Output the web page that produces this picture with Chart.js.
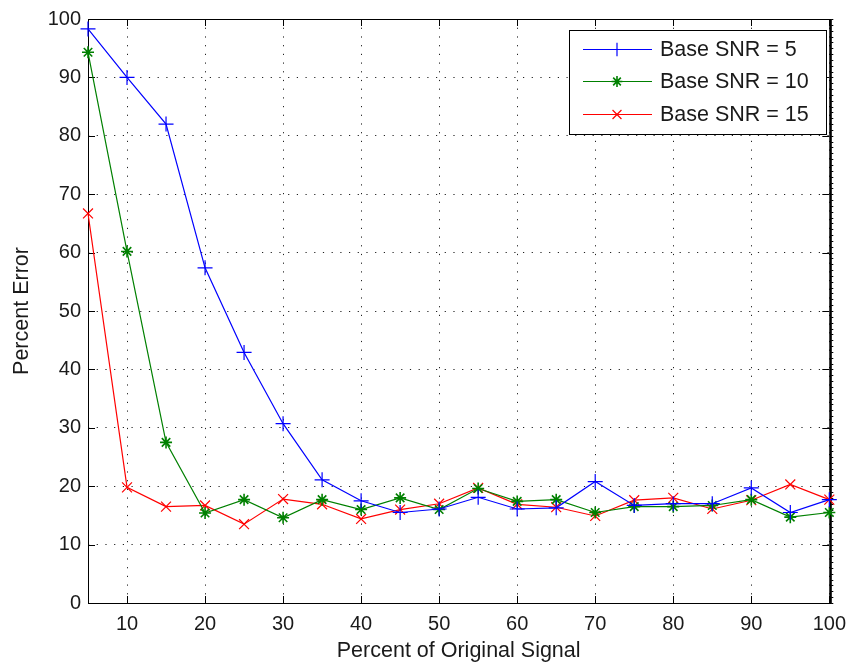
<!DOCTYPE html>
<html>
<head>
<meta charset="utf-8">
<script src="https://cdn.jsdelivr.net/npm/chart.js@4/dist/chart.umd.min.js"></script>
<style>
  html, body { margin: 0; padding: 0; background: #fff; }
  #wrap { width: 855px; height: 669px; position: relative; }
</style>
</head>
<body>
<div id="wrap"><canvas id="chart"></canvas></div>
<script>
// Data ------------------------------------------------------------------------------------

var percentSignal = [5, 10, 15, 20, 25, 30, 35, 40, 45, 50, 55, 60, 65, 70, 75, 80, 85, 90, 95, 100];
var snr5Error  = [98.3, 90.0, 82.0, 57.4, 42.9, 30.7, 21.1, 17.5, 15.5, 16.1, 18.1, 16.1, 16.3, 20.8, 16.7, 17.0, 17.0, 19.7, 15.5, 17.7];
var snr10Error = [94.3, 60.2, 27.5, 15.4, 17.7, 14.6, 17.7, 16.0, 18.0, 16.0, 19.6, 17.4, 17.7, 15.5, 16.5, 16.5, 16.7, 17.7, 14.7, 15.5];
var snr15Error = [66.7, 19.8, 16.5, 16.7, 13.5, 17.8, 16.9, 14.4, 16.0, 17.0, 19.7, 16.9, 16.4, 14.9, 17.6, 18.0, 16.1, 17.6, 20.3, 17.7];
var seriesLabels = ['Base SNR = 5', 'Base SNR = 10', 'Base SNR = 15'];

var xTicks = [10, 20, 30, 40, 50, 60, 70, 80, 90, 100];
var yTicks = [0, 10, 20, 30, 40, 50, 60, 70, 80, 90, 100];

// Constants -------------------------------------------------------------------------------

var FONT = '"Liberation Sans", Arial, Helvetica, sans-serif';
var TEXT_COLOR = '#1a1a1a';
var TICK_SIZE = 20;
var LABEL_SIZE = 21.5;
var TICK_LEN = 7;

// Helpers ---------------------------------------------------------------------------------

function toPoints(values) {
    return percentSignal.map(function (x, i) { return { x: x, y: values[i] }; });
}

function makeSeries(label, values, color, style, radius, pointWidth) {
    return {
        label: label,
        data: toPoints(values),
        borderColor: color,
        backgroundColor: color,
        borderWidth: 1.2,
        pointStyle: style,
        pointRadius: radius,
        pointHoverRadius: radius,
        pointBorderWidth: pointWidth,
        pointBorderColor: color,
        tension: 0,
        fill: false,
        clip: false
    };
}

// frame, inward ticks and the legend box, MATLAB style
var framePlugin = {
    id: 'frame',
    beforeDatasetsDraw: function (chart) {
        var ctx = chart.ctx, a = chart.chartArea;
        var xs = chart.scales.x, ys = chart.scales.y;
        ctx.save();
        ctx.strokeStyle = '#000';
        ctx.lineWidth = 1;
        ctx.strokeRect(a.left + 0.5, a.top + 0.5, a.right - a.left, a.bottom - a.top);
        ctx.beginPath();
        xTicks.forEach(function (v) {
            var px = Math.round(xs.getPixelForValue(v)) + 0.5;
            ctx.moveTo(px, a.bottom); ctx.lineTo(px, a.bottom - TICK_LEN);
            ctx.moveTo(px, a.top); ctx.lineTo(px, a.top + TICK_LEN);
        });
        yTicks.forEach(function (v) {
            var py = Math.round(ys.getPixelForValue(v)) + 0.5;
            ctx.moveTo(a.left, py); ctx.lineTo(a.left + TICK_LEN, py);
            ctx.moveTo(a.right, py); ctx.lineTo(a.right - TICK_LEN, py);
        });
        ctx.stroke();
        // thick right edge with small serrations
        ctx.lineWidth = 2;
        ctx.beginPath();
        ctx.moveTo(a.right + 1.5, a.top); ctx.lineTo(a.right + 1.5, a.bottom + 1);
        ctx.stroke();
        ctx.lineWidth = 1;
        ctx.beginPath();
        for (var v = 0; v <= 100; v += 1) {
            var py = Math.round(ys.getPixelForValue(v)) + 0.5;
            ctx.moveTo(a.right + 2, py); ctx.lineTo(a.right + 4, py);
        }
        ctx.stroke();
        ctx.restore();
    },
    afterDraw: function (chart) {
        var ctx = chart.ctx;
        var box = { left: 569.5, top: 30.5, width: 257, height: 104 };
        var rows = [49.5, 81.5, 114.5];
        ctx.save();
        ctx.fillStyle = '#fff';
        ctx.fillRect(box.left, box.top, box.width, box.height);
        ctx.strokeStyle = '#000';
        ctx.lineWidth = 1;
        ctx.strokeRect(box.left, box.top, box.width, box.height);
        chart.data.datasets.forEach(function (ds, i) {
            var y = rows[i];
            ctx.strokeStyle = ds.borderColor;
            ctx.lineWidth = 1.2;
            ctx.beginPath();
            ctx.moveTo(583, y); ctx.lineTo(652, y);
            ctx.stroke();
            ctx.lineWidth = ds.pointBorderWidth;
            if (Chart.helpers && Chart.helpers.drawPoint) {
                Chart.helpers.drawPoint(ctx, {
                    pointStyle: ds.pointStyle, radius: ds.pointRadius * 0.9,
                    rotation: 0, borderWidth: ds.pointBorderWidth
                }, 617, y);
            }
            ctx.fillStyle = TEXT_COLOR;
            ctx.font = LABEL_SIZE + 'px ' + FONT;
            ctx.textBaseline = 'middle';
            ctx.textAlign = 'left';
            ctx.fillText(ds.label, 660, y + 1);
        });
        ctx.restore();
    }
};

// Chart -----------------------------------------------------------------------------------

var chart = new Chart(document.getElementById('chart').getContext('2d'), {
    type: 'line',
    data: {
        datasets: [
            makeSeries(seriesLabels[0], snr5Error, '#0000ff', 'cross', 7.5, 1.2),
            makeSeries(seriesLabels[1], snr10Error, '#008000', 'star', 6, 1.6),
            makeSeries(seriesLabels[2], snr15Error, '#ff0000', 'crossRot', 7, 1.2)
        ]
    },
    options: {
        responsive: true,
        maintainAspectRatio: false,
        animation: false,
        events: [],
        layout: { padding: { left: 0, right: 20, top: 18, bottom: 0 } },
        plugins: {
            legend: { display: false },
            tooltip: { enabled: false }
        },
        scales: {
            x: {
                type: 'linear',
                min: 5,
                max: 100,
                afterBuildTicks: function (scale) {
                    scale.ticks = xTicks.map(function (v) { return { value: v }; });
                },
                afterFit: function (scale) { scale.height = 66; },
                grid: { color: '#222', lineWidth: 1, drawTicks: false },
                border: { display: false, dash: [1.2, 7.5] },
                ticks: {
                    padding: 9,
                    maxRotation: 0,
                    color: TEXT_COLOR,
                    font: { family: FONT, size: TICK_SIZE }
                },
                title: {
                    display: true,
                    text: 'Percent of Original Signal',
                    color: TEXT_COLOR,
                    font: { family: FONT, size: LABEL_SIZE },
                    padding: { top: 0, bottom: 5 }
                }
            },
            y: {
                type: 'linear',
                min: 0,
                max: 100,
                afterBuildTicks: function (scale) {
                    scale.ticks = yTicks.map(function (v) { return { value: v }; });
                },
                afterFit: function (scale) { scale.width = 88; },
                grid: { color: '#222', lineWidth: 1, drawTicks: false },
                border: { display: false, dash: [1.2, 7.5] },
                ticks: {
                    padding: 7,
                    color: TEXT_COLOR,
                    font: { family: FONT, size: TICK_SIZE }
                },
                title: {
                    display: true,
                    text: 'Percent Error',
                    color: TEXT_COLOR,
                    font: { family: FONT, size: LABEL_SIZE },
                    padding: { top: 9, bottom: 0 }
                }
            }
        }
    },
    plugins: [framePlugin]
});
</script>
</body>
</html>
